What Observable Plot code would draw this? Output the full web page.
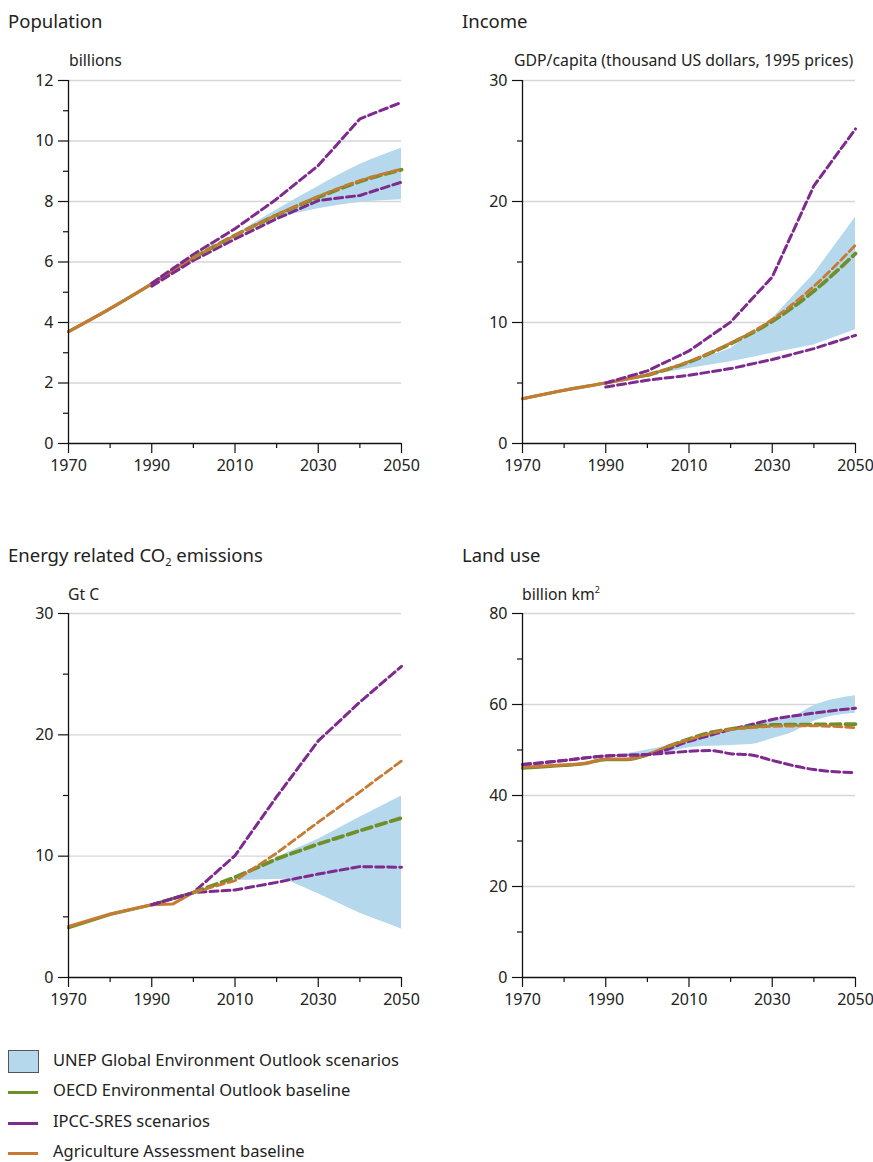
<!DOCTYPE html>
<html>
<head>
<meta charset="utf-8">
<script src="https://cdn.jsdelivr.net/npm/d3@7"></script>
<script src="https://cdn.jsdelivr.net/npm/@observablehq/plot@0.6"></script>
<style>
  html, body { margin: 0; padding: 0; background: #fff; }
  body { font-family: "Noto Sans", "Open Sans", sans-serif; color: #222; }
  #root { position: relative; width: 873px; height: 1162px; overflow: hidden; }
  .abs { position: absolute; white-space: nowrap; }
  .abs svg text { font-size: 16px !important; font-family: "Noto Sans", sans-serif; }
  .title { font-size: 18.5px; line-height: 1; }
  .unit { font-size: 15.8px; line-height: 1; }
  .leg { font-size: 16.5px; line-height: 1; }
  .swatch-box { position: absolute; width: 31px; height: 23px; border: 1px solid #555; box-sizing: border-box; }
  .swatch-line { position: absolute; width: 30px; height: 3px; }
  sub { font-size: 11px; vertical-align: -4px; line-height: 0; }
  sup { font-size: 9px; vertical-align: 7px; line-height: 0; }
</style>
</head>
<body>
<div id="root"></div>
<script>
// ---------- colours ----------
const GREEN = "#6f8f2a", ORANGE = "#c67b34", PURPLE = "#7e2b8e", BAND = "#b5d8ec";

// ---------- Population (billions) ----------
const popHistYears = [1970, 1980, 1990, 2000];
const popHist = [3.70, 4.46, 5.28, 6.14];
const popProjYears = [2000, 2010, 2020, 2030, 2040, 2050];
const popOECD = [6.14, 6.88, 7.55, 8.14, 8.66, 9.05];
const popAgri = [6.14, 6.88, 7.56, 8.17, 8.69, 9.07];
const popIpccYears = [1990, 2000, 2010, 2020, 2030, 2040, 2050];
const popIpccHigh = [5.30, 6.25, 7.10, 8.08, 9.19, 10.73, 11.28];
const popIpccLow = [5.20, 6.05, 6.76, 7.43, 8.03, 8.20, 8.64];
const popBandYears = [2010, 2020, 2030, 2040, 2050];
const popBandLow = [6.85, 7.42, 7.76, 7.97, 8.06];
const popBandHigh = [6.90, 7.72, 8.50, 9.22, 9.76];

// ---------- Income (GDP/capita, thousand US$ 1995) ----------
const incHistYears = [1970, 1980, 1990, 2000];
const incHist = [3.70, 4.40, 5.00, 5.65];
const incProjYears = [2000, 2010, 2020, 2030, 2040, 2050];
const incOECD = [5.65, 6.74, 8.25, 10.10, 12.60, 15.70];
const incAgri = [5.65, 6.78, 8.30, 10.25, 13.00, 16.40];
const incIpccYears = [1990, 2000, 2010, 2020, 2030, 2040, 2050];
const incIpccHigh = [5.00, 6.00, 7.65, 10.04, 13.76, 21.30, 26.00];
const incIpccLow = [4.67, 5.23, 5.64, 6.19, 6.94, 7.84, 8.94];
const incBandYears = [2000, 2010, 2020, 2030, 2040, 2050];
const incBandLow = [5.60, 6.20, 6.75, 7.45, 8.15, 9.40];
const incBandHigh = [5.65, 6.60, 7.85, 10.30, 14.00, 18.70];

// ---------- Energy related CO2 emissions (Gt C) ----------
const co2HistYears = [1970, 1980, 1990, 1995, 2000];
const co2HistOECD = [4.10, 5.20, 6.00, 6.50, 7.00];
const co2HistAgri = [4.20, 5.23, 6.00, 6.05, 7.02];
const co2ProjYears = [2000, 2010, 2020, 2030, 2040, 2050];
const co2OECD = [7.00, 8.26, 9.77, 11.00, 12.10, 13.15];
const co2Agri = [7.02, 7.98, 10.25, 12.80, 15.30, 17.85];
const co2IpccYears = [1990, 1995, 2000, 2010, 2020, 2030, 2040, 2050];
const co2IpccHigh = [6.00, 6.50, 7.00, 10.05, 14.90, 19.50, 22.70, 25.65];
const co2IpccLow = [6.00, 6.50, 7.00, 7.21, 7.84, 8.53, 9.14, 9.08];
const co2BandYears = [2010, 2022, 2030, 2040, 2050];
const co2BandLow = [8.00, 8.10, 6.90, 5.30, 4.00];
const co2BandHigh = [8.20, 10.20, 11.40, 13.20, 14.95];

// ---------- Land use (billion km2) ----------
const landHistYears = [1970, 1980, 1985, 1990, 1995, 2000, 2005];
const landHistOECD = [46.0, 46.6, 47.0, 47.9, 47.9, 48.9, 50.8];
const landHistAgri = [46.2, 46.75, 47.1, 48.0, 48.0, 49.0, 50.8];
const landProjYears = [2005, 2010, 2015, 2020, 2025, 2030, 2040, 2050];
const landOECD = [50.8, 52.4, 53.8, 54.6, 55.1, 55.5, 55.6, 55.7];
const landAgri = [50.8, 52.3, 53.6, 54.5, 54.9, 55.2, 55.3, 54.9];
const landIpccYears = [1970, 1980, 1990, 2000, 2010, 2015, 2020, 2025, 2030, 2040, 2050];
const landIpccHigh = [46.8, 47.7, 48.7, 49.0, 51.9, 53.2, 54.5, 55.6, 56.7, 58.1, 59.2];
const landIpccLow = [46.8, 47.7, 48.7, 49.0, 49.7, 49.9, 49.2, 48.9, 47.7, 45.7, 45.0];
const landBandYears = [1995, 2000, 2005, 2010, 2020, 2025, 2030, 2035, 2040, 2050];
const landBandLow = [48.8, 49.0, 49.4, 50.5, 51.0, 51.2, 52.5, 53.9, 56.3, 58.1];
const landBandHigh = [49.2, 50.0, 51.0, 52.2, 54.5, 55.4, 56.4, 57.3, 59.7, 61.9];

// ---------- axis ticks ----------
const xMajor = [1970, 1990, 2010, 2030, 2050];
const xMinor = [1980, 2000, 2020, 2040];

// ---------- helpers ----------
const pts = (xs, ys) => xs.map((x, i) => ({x, y: ys[i]}));
const band = (xs, lo, hi) => xs.map((x, i) => ({x, y1: lo[i], y2: hi[i]}));

function panel(cfg) {
  const c = cfg.curve || "monotone-x";
  const bc = cfg.bandCurve || c;
  const axisCommon = {stroke: "#111", strokeWidth: 1.2, label: null, fontSize: 16, fill: "#222"};
  return Plot.plot({
    width: cfg.width, height: cfg.height,
    marginLeft: cfg.ml, marginRight: cfg.mr, marginTop: 10, marginBottom: cfg.height - 10 - cfg.plotH,
    x: {domain: [1970, 2050], axis: null, label: null},
    y: {domain: cfg.yDomain, axis: null, label: null},
    style: {fontFamily: "Noto Sans", fontSize: "16px", color: "#222", background: "transparent", overflow: "visible"},
    marks: [
      Plot.gridY(cfg.yMajor.filter(v => v > cfg.yDomain[0]), {stroke: "#d6d6d6", strokeOpacity: 1, strokeWidth: 1.3}),
      Plot.areaY(cfg.band, {x: "x", y1: "y1", y2: "y2", fill: BAND, curve: bc}),
      Plot.line(cfg.histGreen, {x: "x", y: "y", stroke: GREEN, strokeWidth: 3.2, curve: c}),
      Plot.line(cfg.histOrange, {x: "x", y: "y", stroke: ORANGE, strokeWidth: 3, curve: c}),
      Plot.line(cfg.ipccHigh, {x: "x", y: "y", stroke: PURPLE, strokeWidth: 3, strokeDasharray: "8,4", curve: cfg.ipccCurve || c}),
      Plot.line(cfg.ipccLow, {x: "x", y: "y", stroke: PURPLE, strokeWidth: 3, strokeDasharray: "8,4", curve: cfg.ipccCurve || c}),
      Plot.line(cfg.projGreen, {x: "x", y: "y", stroke: GREEN, strokeWidth: 3.8, strokeDasharray: "10,5", curve: c}),
      Plot.line(cfg.projOrange, {x: "x", y: "y", stroke: ORANGE, strokeWidth: 2.8, strokeDasharray: "8,4", curve: c}),
      Plot.ruleX([1970], {stroke: "#111", strokeWidth: 1.3}),
      Plot.ruleY([cfg.yDomain[0]], {stroke: "#111", strokeWidth: 1.3}),
      Plot.axisY(cfg.yMajor, {...axisCommon, tickSize: 10, tickPadding: 5, tickFormat: d => String(d)}),
      Plot.axisY(cfg.yMinor, {...axisCommon, tickSize: 5, tickFormat: () => ""}),
      Plot.axisX(xMajor, {...axisCommon, tickSize: 10, tickPadding: 6, tickFormat: d => String(d)}),
      Plot.axisX(xMinor, {...axisCommon, tickSize: 5, tickFormat: () => ""})
    ]
  });
}

const root = document.getElementById("root");
function place(node, left, top) {
  const d = document.createElement("div");
  d.className = "abs";
  d.style.left = left + "px"; d.style.top = top + "px";
  d.appendChild(node);
  root.appendChild(d);
}
function text(html, cls, left, top) {
  const d = document.createElement("div");
  d.className = "abs " + cls;
  d.style.left = left + "px"; d.style.top = top + "px";
  d.innerHTML = html;
  root.appendChild(d);
  return d;
}

// Population
place(panel({
  width: 436, height: 413, ml: 68, mr: 35, plotH: 363,
  yDomain: [0, 12], yMajor: [0, 2, 4, 6, 8, 10, 12], yMinor: [1, 3, 5, 7, 9, 11],
  band: band(popBandYears, popBandLow, popBandHigh),
  histGreen: pts(popHistYears, popHist), histOrange: pts(popHistYears, popHist),
  projGreen: pts(popProjYears, popOECD), projOrange: pts(popProjYears, popAgri),
  ipccHigh: pts(popIpccYears, popIpccHigh), ipccLow: pts(popIpccYears, popIpccLow),
  ipccCurve: "linear"
}), 0, 70);

// Income
place(panel({
  width: 437, height: 413, ml: 86, mr: 18, plotH: 363,
  yDomain: [0, 30], yMajor: [0, 10, 20, 30], yMinor: [5, 15, 25],
  band: band(incBandYears, incBandLow, incBandHigh), bandCurve: "linear",
  histGreen: pts(incHistYears, incHist), histOrange: pts(incHistYears, incHist),
  projGreen: pts(incProjYears, incOECD), projOrange: pts(incProjYears, incAgri),
  ipccHigh: pts(incIpccYears, incIpccHigh), ipccLow: pts(incIpccYears, incIpccLow),
  ipccCurve: "linear"
}), 436, 70);

// CO2
place(panel({
  width: 436, height: 414, ml: 68, mr: 35, plotH: 364, curve: "linear",
  yDomain: [0, 30], yMajor: [0, 10, 20, 30], yMinor: [5, 15, 25],
  band: band(co2BandYears, co2BandLow, co2BandHigh),
  histGreen: pts(co2HistYears, co2HistOECD), histOrange: pts(co2HistYears, co2HistAgri),
  projGreen: pts(co2ProjYears, co2OECD), projOrange: pts(co2ProjYears, co2Agri),
  ipccHigh: pts(co2IpccYears, co2IpccHigh), ipccLow: pts(co2IpccYears, co2IpccLow)
}), 0, 603);

// Land use
place(panel({
  width: 437, height: 414, ml: 86, mr: 18, plotH: 364,
  yDomain: [0, 80], yMajor: [0, 20, 40, 60, 80], yMinor: [10, 30, 50, 70],
  band: band(landBandYears, landBandLow, landBandHigh),
  histGreen: pts(landHistYears, landHistOECD), histOrange: pts(landHistYears, landHistAgri),
  projGreen: pts(landProjYears, landOECD), projOrange: pts(landProjYears, landAgri),
  ipccHigh: pts(landIpccYears, landIpccHigh), ipccLow: pts(landIpccYears, landIpccLow)
}), 436, 603);

// Titles and units
text("Population", "title", 8, 12);
text("Income", "title", 462, 12);
text("Energy related CO<sub>2</sub> emissions", "title", 8, 546);
text("Land use", "title", 462, 546);
text("billions", "unit", 69, 53);
text("GDP/capita (thousand US dollars, 1995 prices)", "unit", 514, 53);
text("Gt C", "unit", 68, 587);
text("billion km<sup>2</sup>", "unit", 522, 587);

// Legend
const legendLabels = [
  "UNEP Global Environment Outlook scenarios",
  "OECD Environmental Outlook baseline",
  "IPCC-SRES scenarios",
  "Agriculture Assessment baseline"
];
const legendColors = [BAND, GREEN, PURPLE, ORANGE];
const legendY = [1062, 1092, 1123, 1153];
legendLabels.forEach((lab, i) => {
  const sw = document.createElement("div");
  if (i === 0) {
    sw.className = "swatch-box";
    sw.style.left = "8px"; sw.style.top = (legendY[i] - 12) + "px";
  } else {
    sw.className = "swatch-line";
    sw.style.left = "8px"; sw.style.top = (legendY[i] - 1.5) + "px";
  }
  sw.style.background = legendColors[i];
  root.appendChild(sw);
  text(lab, "leg", 53, legendY[i] - 10);
});
</script>
</body>
</html>
